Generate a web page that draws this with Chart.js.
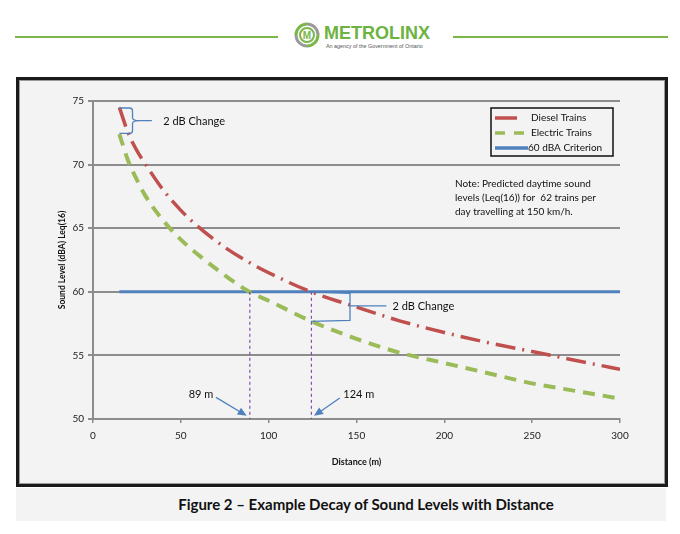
<!DOCTYPE html>
<html>
<head>
<meta charset="utf-8">
<script src="https://cdn.jsdelivr.net/npm/chart.js@4.4.1/dist/chart.umd.min.js"></script>
<style>
  body { margin: 0; width: 680px; height: 534px; background: #fff; position: relative; overflow: hidden; font-family: Lato, sans-serif; }
  .rule { position: absolute; top: 36px; height: 2px; background: #7ab648; }
  #brand { position: absolute; left: 324px; top: 23px; font: bold 18px "Liberation Sans", Arial, sans-serif; color: #6db33f; }
  #tagline { position: absolute; left: 326px; top: 43px; font: 5.4px "Liberation Sans", Arial, sans-serif; color: #555; white-space: nowrap; }
  #logo { position: absolute; left: 294px; top: 22px; }
  #frame { position: absolute; left: 16px; top: 77px; width: 646px; height: 404px; border: 3px solid #1a1a1a; background: #f3f3f3; box-shadow: inset 0 0 0 1px #9a9a9a; }
  #caption { position: absolute; left: 16px; top: 488px; width: 600px; height: 33px; padding-left: 50px; background: #f3f3f3; text-align: center; font: bold 15px Lato, sans-serif; line-height: 33px; color: #111; }
</style>
</head>
<body>
<div class="rule" style="left:15px;width:263px"></div>
<div class="rule" style="left:453px;width:215px"></div>
<svg id="logo" width="26" height="26" viewBox="0 0 26 26">
  <path d="M2 13 A11 11 0 0 1 13 2" fill="none" stroke="#7ab648" stroke-width="3"/>
  <path d="M13 2 A11 11 0 0 1 24 13" fill="none" stroke="#9a9a9a" stroke-width="3"/>
  <path d="M24 13 A11 11 0 0 1 13 24" fill="none" stroke="#7ab648" stroke-width="3"/>
  <path d="M13 24 A11 11 0 0 1 2 13" fill="none" stroke="#9a9a9a" stroke-width="3"/>
  <circle cx="13" cy="13" r="7" fill="#fff" stroke="#7ab648" stroke-width="2"/>
  <text x="13" y="16.5" text-anchor="middle" font-family="Liberation Sans, Arial" font-weight="bold" font-size="10" fill="#7ab648">M</text>
</svg>
<div id="brand">METROLINX</div>
<div id="tagline">An agency of the Government of Ontario</div>

<div id="frame"><canvas id="decayChart"></canvas></div>
<div id="caption">Figure 2 – Example Decay of Sound Levels with Distance</div>

<script>
// values
const distances = [15, 20, 25, 30, 40, 50, 60, 75, 89, 100, 124, 150, 175, 200, 225, 250, 275, 300];
const dieselLevels = [74.5, 72.5, 71.1, 70.0, 68.0, 66.4, 65.1, 63.5, 62.3, 61.5, 60.0, 58.8, 57.7, 56.8, 56.0, 55.3, 54.6, 53.9];
const electricLevels = [72.4, 70.3, 68.8, 67.5, 65.6, 64.1, 62.9, 61.3, 60.0, 59.3, 57.7, 56.3, 55.2, 54.4, 53.6, 52.8, 52.2, 51.6];
const criterionDistances = [15, 300];
const criterionLevels = [60, 60];
const xTickValues = [0, 50, 100, 150, 200, 250, 300];
const yTickValues = [50, 55, 60, 65, 70, 75];

// annotation values
const markDistances = [89, 124];
const markLabels = ['89 m', '124 m'];
const noteLines = ['Note: Predicted daytime sound', 'levels (Leq(16)) for  62 trains per', 'day travelling at 150 km/h.'];

const RED = '#c0504d', GREEN = '#9bbb59', BLUE = '#4f81bd';

function toPoints(xs, ys) {
  return xs.map((d, i) => ({ x: d, y: ys[i] }));
}

function arrow(ctx, x1, y1, x2, y2) {
  const a = Math.atan2(y2 - y1, x2 - x1);
  ctx.beginPath();
  ctx.moveTo(x1, y1);
  ctx.lineTo(x2 - 6 * Math.cos(a), y2 - 6 * Math.sin(a));
  ctx.stroke();
  ctx.beginPath();
  ctx.moveTo(x2, y2);
  ctx.lineTo(x2 - 9 * Math.cos(a) + 4 * Math.sin(a), y2 - 9 * Math.sin(a) - 4 * Math.cos(a));
  ctx.lineTo(x2 - 9 * Math.cos(a) - 4 * Math.sin(a), y2 - 9 * Math.sin(a) + 4 * Math.cos(a));
  ctx.closePath();
  ctx.fill();
}

const overlay = {
  id: 'overlay',
  afterDatasetsDraw(chart) {
    const { ctx, chartArea } = chart;
    const x = chart.scales.x, y = chart.scales.y;
    const px = v => x.getPixelForValue(v);
    const py = v => y.getPixelForValue(v);
    ctx.save();

    // dotted drop lines at the crossing distances
    ctx.strokeStyle = '#7030a0';
    ctx.lineWidth = 1;
    ctx.setLineDash([3, 3]);
    markDistances.forEach(d => {
      ctx.beginPath();
      ctx.moveTo(px(d) + 0.5, py(60));
      ctx.lineTo(px(d) + 0.5, py(50));
      ctx.stroke();
    });
    ctx.setLineDash([]);

    // arrows + labels
    ctx.strokeStyle = BLUE;
    ctx.fillStyle = BLUE;
    ctx.lineWidth = 1.3;
    arrow(ctx, px(70), py(51.7), px(87.5), py(50.25));
    arrow(ctx, px(140.5), py(51.65), px(125.8), py(50.25));

    ctx.fillStyle = '#111';
    ctx.font = '11px Lato, sans-serif';
    ctx.textBaseline = 'middle';
    ctx.textAlign = 'right';
    ctx.fillText(markLabels[0], px(68.5), py(51.9));
    ctx.textAlign = 'left';
    ctx.fillText(markLabels[1], px(142.5), py(51.9));

    // top bracket between the two start points
    ctx.strokeStyle = BLUE;
    ctx.lineWidth = 1.3;
    const bx = px(22.5), tip = px(26.5), yt = py(74.45), yb = py(72.45), ym = (yt + yb) / 2;
    ctx.beginPath();
    ctx.moveTo(px(15), yt);
    ctx.lineTo(bx - 3, yt);
    ctx.quadraticCurveTo(bx, yt, bx, yt + 3);
    ctx.lineTo(bx, ym - 3);
    ctx.quadraticCurveTo(bx, ym, tip, ym);
    ctx.quadraticCurveTo(bx, ym, bx, ym + 3);
    ctx.lineTo(bx, yb - 3);
    ctx.quadraticCurveTo(bx, yb, bx - 3, yb);
    ctx.lineTo(px(15), yb);
    ctx.moveTo(tip, ym);
    ctx.lineTo(px(33.5), ym);
    ctx.stroke();

    // bracket at 124 m
    const rx = px(146.3), y1 = py(60), y2 = py(57.75), yMid = py(58.9);
    ctx.beginPath();
    ctx.moveTo(px(124), y1);
    ctx.lineTo(rx, y1 + 1.5);
    ctx.lineTo(rx, y2);
    ctx.lineTo(px(124), y2 + 1);
    ctx.moveTo(rx, yMid);
    ctx.lineTo(px(167), yMid);
    ctx.stroke();

    ctx.fillStyle = '#111';
    ctx.font = '11px Lato, sans-serif';
    ctx.textAlign = 'left';
    ctx.fillText('2 dB Change', px(40), ym + 1);
    ctx.fillText('2 dB Change', px(170.5), yMid + 1);

    // legend box
    const lx = chartArea.right - 129, ly = chartArea.top + 7;
    ctx.strokeStyle = '#111';
    ctx.lineWidth = 1.5;
    ctx.strokeRect(lx, ly, 122, 48);
    ctx.font = '10px Lato, sans-serif';
    const rows = [
      { ds: chart.data.datasets[0], dash: [], len: 22 },
      { ds: chart.data.datasets[1], dash: [10, 9], len: 33 },
      { ds: chart.data.datasets[2], dash: [], len: 33 }
    ];
    rows.forEach((r, i) => {
      const ry = ly + 10 + i * 15;
      ctx.strokeStyle = r.ds.borderColor;
      ctx.lineWidth = 3.5;
      ctx.setLineDash(r.dash);
      ctx.beginPath();
      ctx.moveTo(lx + 4, ry);
      ctx.lineTo(lx + 4 + r.len, ry);
      ctx.stroke();
      ctx.setLineDash([]);
      ctx.fillStyle = '#111';
      ctx.fillText(r.ds.label, lx + (i === 2 ? 37 : 40), ry);
    });

    // note
    ctx.font = '10px Lato, sans-serif';
    noteLines.forEach((t, i) => {
      ctx.fillText(t, chartArea.right - 165, chartArea.top + 83 + i * 14);
    });

    ctx.restore();
  }
};

const ctx = document.getElementById('decayChart').getContext('2d');
new Chart(ctx, {
  type: 'line',
  data: {
    datasets: [
      {
        label: 'Diesel Trains',
        data: toPoints(distances, dieselLevels),
        borderColor: RED,
        borderWidth: 3.5,
        borderDash: [20, 7, 2, 7],
        pointRadius: 0,
        cubicInterpolationMode: 'monotone'
      },
      {
        label: 'Electric Trains',
        data: toPoints(distances, electricLevels),
        borderColor: GREEN,
        borderWidth: 4,
        borderDash: [12, 8],
        pointRadius: 0,
        cubicInterpolationMode: 'monotone'
      },
      {
        label: '60 dBA Criterion',
        data: toPoints(criterionDistances, criterionLevels),
        borderColor: BLUE,
        borderWidth: 3,
        pointRadius: 0
      }
    ]
  },
  options: {
    responsive: true,
    maintainAspectRatio: false,
    animation: false,
    layout: { padding: { top: 21, right: 45, bottom: 0, left: 0 } },
    plugins: {
      legend: { display: false },
      tooltip: { enabled: false }
    },
    scales: {
      x: {
        type: 'linear',
        min: 0,
        max: 300,
        afterBuildTicks: s => { s.ticks = xTickValues.map(v => ({ value: v })); },
        afterFit: s => { s.height = 65; },
        grid: { drawOnChartArea: false, drawTicks: true, tickLength: 4, color: '#8c8c8c', lineWidth: 1.5 },
        border: { color: '#8c8c8c', width: 2 },
        ticks: { font: { family: 'Lato', size: 10 }, color: '#222', padding: 7, maxRotation: 0 },
        title: { display: true, text: 'Distance (m)', font: { family: 'Lato', size: 9, weight: 'bold' }, color: '#111', padding: { top: 0, bottom: 17 } }
      },
      y: {
        type: 'linear',
        min: 50,
        max: 75,
        afterBuildTicks: s => { s.ticks = yTickValues.map(v => ({ value: v })); },
        afterFit: s => { s.width = 74; },
        grid: { color: '#8c8c8c', lineWidth: 2, tickLength: 5 },
        border: { color: '#8c8c8c', width: 2 },
        ticks: { font: { family: 'Lato', size: 10 }, color: '#222', padding: 4 },
        title: { display: true, text: 'Sound Level (dBA) Leq(16)', font: { family: 'Lato', size: 8.5, weight: 'bold' }, color: '#111', padding: { top: 38, bottom: 0 } }
      }
    }
  },
  plugins: [overlay]
});
</script>
</body>
</html>
